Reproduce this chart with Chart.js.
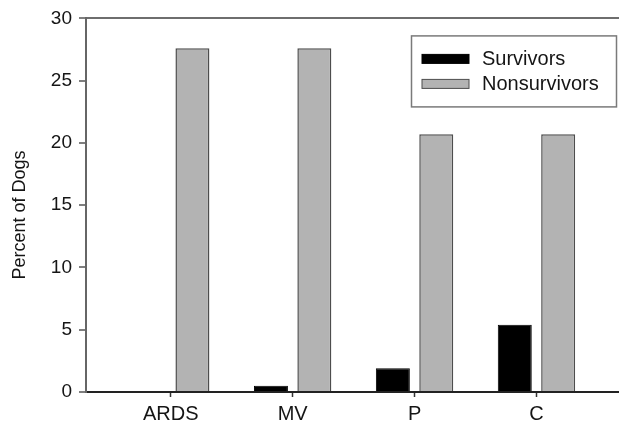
<!DOCTYPE html>
<html><head><meta charset="utf-8">
<script src="https://cdn.jsdelivr.net/npm/chart.js@4/dist/chart.umd.min.js"></script>
<style>html,body{margin:0;padding:0;background:#fff;overflow:hidden}#wrap{width:619px;height:428px;position:relative}</style>
</head><body><div id="wrap"><canvas id="c" width="619" height="428"></canvas></div>
<script>
const categories = ['ARDS', 'MV', 'P', 'C'];
const survivors = [0, 0.5, 1.9, 5.4];
const nonsurvivors = [27.6, 27.6, 20.7, 20.7];
const seriesNames = ['Survivors', 'Nonsurvivors'];
const yTicks = [0, 5, 10, 15, 20, 25, 30];
const yTitle = 'Percent of Dogs';

const FONT = "'Liberation Sans', Arial, sans-serif";
const TEXT = '#151515';
const FIRST = 0.695;   // position of first category inside the x range
const XMAX = 4.372;
const xPos = categories.map((c, i) => i + FIRST);
const colors = ['#000000', '#b3b3b3'];
const borders = ['#000000', '#4d4d4d'];

const extras = {
  id: 'extras',
  afterDraw(chart) {
    const ctx = chart.ctx, a = chart.chartArea;
    ctx.save();
    // y title
    ctx.translate(20, 215);
    ctx.rotate(-Math.PI / 2);
    ctx.font = '18px ' + FONT;
    ctx.fillStyle = TEXT;
    ctx.textAlign = 'center';
    ctx.textBaseline = 'middle';
    ctx.fillText(yTitle, 0, 0);
    ctx.restore();
    // legend
    ctx.save();
    const bx = a.right - 207.5, by = a.top + 17.5, bw = 205, bh = 71;
    ctx.fillStyle = '#fff';
    ctx.fillRect(bx, by, bw, bh);
    ctx.strokeStyle = '#7a7a7a';
    ctx.lineWidth = 1.5;
    ctx.strokeRect(bx, by, bw, bh);
    ctx.font = '20px ' + FONT;
    ctx.textBaseline = 'middle';
    ctx.textAlign = 'left';
    seriesNames.forEach((name, i) => {
      const sy = by + 18.5 + i * 25;
      ctx.fillStyle = colors[i];
      ctx.fillRect(bx + 10.5, sy, 47, 9);
      ctx.strokeStyle = borders[i];
      ctx.lineWidth = 1;
      ctx.strokeRect(bx + 10.5, sy, 47, 9);
      ctx.fillStyle = TEXT;
      ctx.fillText(name, bx + 70.5, sy + 5);
    });
    ctx.restore();
  }
};

new Chart(document.getElementById('c'), {
  type: 'bar',
  data: {
    datasets: [
      {
        label: seriesNames[0],
        data: categories.map((c, i) => ({ x: xPos[i], y: survivors[i] })),
        backgroundColor: colors[0], borderColor: borders[0], borderWidth: 1,
        categoryPercentage: 0.712, barPercentage: 0.783
      },
      {
        label: seriesNames[1],
        data: categories.map((c, i) => ({ x: xPos[i], y: nonsurvivors[i] })),
        backgroundColor: colors[1], borderColor: borders[1], borderWidth: 1.5,
        categoryPercentage: 0.712, barPercentage: 0.783
      }
    ]
  },
  options: {
    responsive: false,
    devicePixelRatio: 1,
    animation: false,
    layout: { padding: { top: 18, right: 0, bottom: 0, left: 0 } },
    plugins: { legend: { display: false }, tooltip: { enabled: false } },
    scales: {
      x: {
        type: 'linear', min: 0, max: XMAX, offset: false,
        afterBuildTicks: s => { s.ticks = xPos.map(v => ({ value: v })); },
        afterFit: s => { s.height = 36; },
        ticks: {
          autoSkip: false, maxRotation: 0, padding: 5,
          font: { family: FONT, size: 20 }, color: TEXT,
          callback: (v, i) => categories[i]
        },
        grid: { offset: false, drawOnChartArea: false, drawTicks: true, tickLength: 5, tickColor: '#333', tickWidth: 1.5 },
        border: { display: true, color: '#222', width: 2 }
      },
      y: {
        min: 0, max: 30,
        afterBuildTicks: s => { s.ticks = yTicks.map(v => ({ value: v })); },
        afterFit: s => { s.width = 86; },
        ticks: { padding: 7, font: { family: FONT, size: 19 }, color: TEXT },
        grid: {
          drawOnChartArea: true, drawTicks: true, tickLength: 7,
          color: c => (c.tick && c.tick.value === 30) ? '#6e6e6e' : 'rgba(0,0,0,0)',
          lineWidth: 2, tickColor: '#555', tickWidth: 1.5
        },
        border: { display: true, color: '#666', width: 2 }
      }
    }
  },
  plugins: [extras]
});
</script></body></html>
